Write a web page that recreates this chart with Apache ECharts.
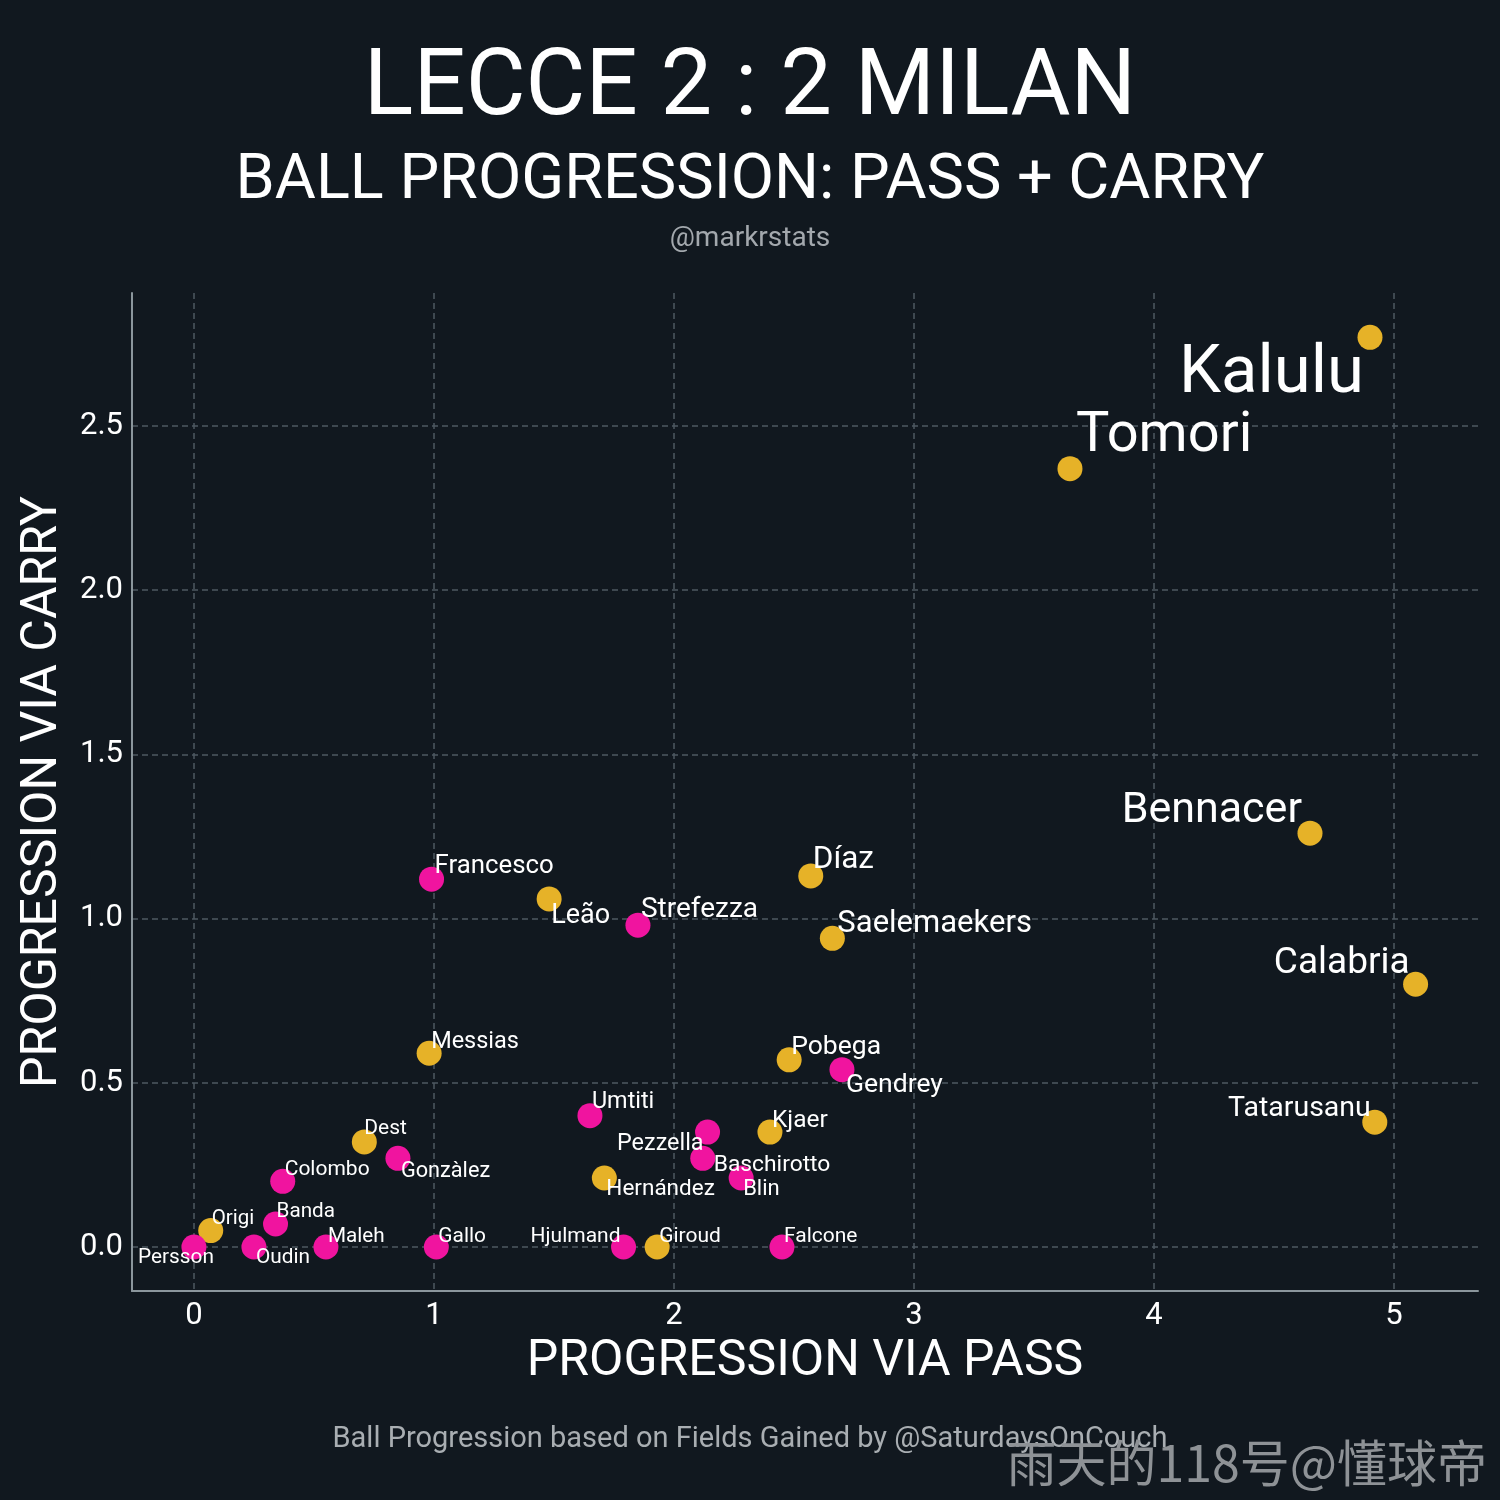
<!DOCTYPE html>
<html>
<head>
<meta charset="utf-8">
<script src="https://cdn.jsdelivr.net/npm/echarts@6/dist/echarts.min.js"></script>
<style>
  html, body { margin: 0; padding: 0; background: #11181f; }
  #chart { width: 1500px; height: 1500px; }
</style>
</head>
<body>
<div id="chart"></div>
<script>
// ---- Data ----
const milanNames = ['Kalulu','Tomori','Bennacer','Calabria','Díaz','Saelemaekers','Leão','Messias','Pobega','Tatarusanu','Kjaer','Hernández','Giroud','Dest','Origi'];
const milanPass  = [4.90, 3.65, 4.65, 5.09, 2.57, 2.66, 1.48, 0.98, 2.48, 4.92, 2.40, 1.71, 1.93, 0.71, 0.07];
const milanCarry = [2.77, 2.37, 1.26, 0.80, 1.13, 0.94, 1.06, 0.59, 0.57, 0.38, 0.35, 0.21, 0.00, 0.32, 0.05];

const lecceNames = ['Francesco','Strefezza','Gendrey','Umtiti','Pezzella','Baschirotto','Blin','Hjulmand','Falcone','Gonzàlez','Colombo','Banda','Persson','Oudin','Maleh','Gallo'];
const leccePass  = [0.99, 1.85, 2.70, 1.65, 2.14, 2.12, 2.28, 1.79, 2.45, 0.85, 0.37, 0.34, 0.00, 0.25, 0.55, 1.01];
const lecceCarry = [1.12, 0.98, 0.54, 0.40, 0.35, 0.27, 0.21, 0.00, 0.00, 0.27, 0.20, 0.07, 0.00, 0.00, 0.00, 0.00];

const xTicks = [0, 1, 2, 3, 4, 5];
const yTicks = [0, 0.5, 1.0, 1.5, 2.0, 2.5];

// ---- Label layout (style only: font size, alignment, offset from marker) ----
const labelLayout = {
  'Kalulu':       [67, 'right', -6, 38],
  'Tomori':       [56, 'left', 6, -32],
  'Bennacer':     [43, 'right', -8, -22],
  'Calabria':     [37, 'right', -6, -21],
  'Díaz':         [31.5, 'left', 2, -16],
  'Saelemaekers': [31, 'left', 5, -14],
  'Leão':         [27, 'left', 2, 17],
  'Messias':      [23.5, 'left', 2, -11],
  'Pobega':       [26.5, 'left', 2, -12],
  'Tatarusanu':   [28.5, 'right', -4, -13],
  'Kjaer':        [24.5, 'left', 2, -11],
  'Hernández':    [22.5, 'left', 2, 11],
  'Giroud':       [21, 'left', 2, -10],
  'Dest':         [21, 'left', 0, -13],
  'Origi':        [20.5, 'left', 1, -12],
  'Francesco':    [25.8, 'left', 3, -13],
  'Strefezza':    [28, 'left', 3, -15],
  'Gendrey':      [26.5, 'left', 4, 16],
  'Umtiti':       [23.4, 'left', 2, -13],
  'Pezzella':     [23.4, 'right', -4, 12],
  'Baschirotto':  [22.8, 'left', 11, 7],
  'Blin':         [22, 'left', 2, 11],
  'Hjulmand':     [21, 'right', -3, -10],
  'Falcone':      [21, 'left', 2, -10],
  'Gonzàlez':     [21.7, 'left', 3, 13],
  'Colombo':      [21, 'left', 2, -12],
  'Banda':        [20.7, 'left', 1, -12],
  'Persson':      [20.8, 'right', 20, 11],
  'Oudin':        [20.8, 'left', 2, 11],
  'Maleh':        [20.7, 'left', 2, -10],
  'Gallo':        [20.9, 'left', 2, -10]
};

function buildData(names, xs, ys) {
  return names.map((n, i) => {
    const l = labelLayout[n];
    return {
      name: n,
      value: [xs[i], ys[i]],
      label: {
        show: true,
        position: 'inside',
        align: l[1],
        verticalAlign: 'middle',
        offset: [l[2], l[3]],
        fontSize: l[0],
        color: '#ffffff',
        fontFamily: 'Roboto',
        formatter: n
      }
    };
  });
}

const chart = echarts.init(document.getElementById('chart'), null, { renderer: 'canvas' });

const gridLine = { show: true, lineStyle: { color: '#4d5862', width: 1.5, type: [6, 4] } };

chart.setOption({
  backgroundColor: '#11181f',
  animation: false,
  textStyle: { fontFamily: 'Roboto' },
  grid: { left: 132, right: 22, top: 293, bottom: 209, containLabel: false },
  xAxis: {
    type: 'value',
    min: -0.258,
    max: 5.35,
    name: 'PROGRESSION VIA PASS',
    nameLocation: 'middle',
    nameGap: 46,
    nameTextStyle: { color: '#ffffff', fontSize: 50, fontFamily: 'Roboto' },
    axisLine: { show: true, onZero: false, lineStyle: { color: '#8b969c', width: 2 } },
    axisTick: { show: false, customValues: xTicks },
    axisLabel: { customValues: xTicks, color: '#ffffff', fontSize: 31, margin: 10, fontFamily: 'Roboto',
                 formatter: v => String(Math.round(v)) },
    splitLine: gridLine
  },
  yAxis: {
    type: 'value',
    min: -0.134,
    max: 2.905,
    name: 'PROGRESSION VIA CARRY',
    nameLocation: 'middle',
    nameRotate: 90,
    nameGap: 64,
    nameTextStyle: { color: '#ffffff', fontSize: 50, fontFamily: 'Roboto' },
    axisLine: { show: true, onZero: false, lineStyle: { color: '#8b969c', width: 2 } },
    axisTick: { show: false, customValues: yTicks },
    axisLabel: { customValues: yTicks, color: '#ffffff', fontSize: 31, margin: 9, fontFamily: 'Roboto',
                 formatter: v => v.toFixed(1) },
    splitLine: gridLine
  },
  graphic: [
    { type: 'text', x: 750, y: 91, style: { text: 'LECCE 2 : 2 MILAN', fill: '#ffffff', font: '92px Roboto', textAlign: 'center', textVerticalAlign: 'middle' } },
    { type: 'text', x: 750, y: 182, style: { text: 'BALL PROGRESSION: PASS + CARRY', fill: '#ffffff', font: '63px Roboto', textAlign: 'center', textVerticalAlign: 'middle' } },
    { type: 'text', x: 750, y: 239, style: { text: '@markrstats', fill: '#a3a8ad', font: '28px Roboto', textAlign: 'center', textVerticalAlign: 'middle' } },
    { type: 'text', x: 750, y: 1440, style: { text: 'Ball Progression based on Fields Gained by @SaturdaysOnCouch', fill: '#a9aeb2', font: '29px Roboto', textAlign: 'center', textVerticalAlign: 'middle' } },
    { type: 'text', x: 1487, y: 1463, style: { text: '雨天的118号@懂球帝', fill: '#8e9296', font: '50px "Noto Sans CJK SC"', textAlign: 'right', textVerticalAlign: 'middle' } }
  ],
  series: [
    {
      name: 'Milan',
      type: 'scatter',
      symbolSize: 25,
      itemStyle: { color: '#e6b228', opacity: 1 },
      data: buildData(milanNames, milanPass, milanCarry),
      z: 3
    },
    {
      name: 'Lecce',
      type: 'scatter',
      symbolSize: 25,
      itemStyle: { color: '#f0149f', opacity: 1 },
      data: buildData(lecceNames, leccePass, lecceCarry),
      z: 3
    }
  ]
});
</script>
</body>
</html>
